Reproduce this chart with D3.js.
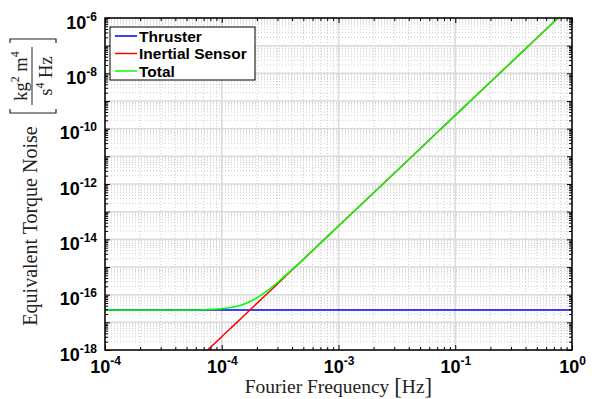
<!DOCTYPE html>
<html><head><meta charset="utf-8">
<script src="https://cdn.jsdelivr.net/npm/d3@7"></script>
<style>body{margin:0;background:#fff}</style>
</head><body>
<svg id="c" width="592" height="399"></svg>
<script>
// ---- data ----
const freq      = [1e-4, 2e-4, 5e-4, 7e-4, 1e-3, 1.2e-3, 1.5e-3, 1.7e-3, 2e-3, 2.5e-3, 3e-3, 4e-3, 5e-3, 7e-3, 1e-2, 2e-2, 5e-2, 1e-1, 2e-1, 5e-1, 1];
const thruster  = [2.8e-17,2.8e-17,2.8e-17,2.8e-17,2.8e-17,2.8e-17,2.8e-17,2.8e-17,2.8e-17,2.8e-17,2.8e-17,2.8e-17,2.8e-17,2.8e-17,2.8e-17,2.8e-17,2.8e-17,2.8e-17,2.8e-17,2.8e-17,2.8e-17];
const inertial  = [3.03e-22,4.85e-21,1.89e-19,7.27e-19,3.03e-18,6.28e-18,1.53e-17,2.53e-17,4.85e-17,1.18e-16,2.45e-16,7.76e-16,1.89e-15,7.27e-15,3.03e-14,4.85e-13,1.89e-11,3.03e-10,4.85e-9,1.89e-7,3.03e-6];
const total     = [2.8e-17,2.8e-17,2.82e-17,2.87e-17,3.1e-17,3.43e-17,4.33e-17,5.33e-17,7.65e-17,1.46e-16,2.73e-16,8.04e-16,1.92e-15,7.30e-15,3.03e-14,4.85e-13,1.89e-11,3.03e-10,4.85e-9,1.89e-7,3.03e-6];
const seriesNames  = ["Thruster", "Inertial Sensor", "Total"];
const seriesColors = ["#0000ff", "#ff0000", "#00ff00"];
const xTickValues = [1e-4, 1e-3, 1e-2, 1e-1, 1];
const xTickLabels = ["10^-4", "10^-4", "10^-3", "10^-1", "10^0"];
const yTickValues = [1e-18, 1e-16, 1e-14, 1e-12, 1e-10, 1e-8, 1e-6];
const yTickLabels = ["10^-18", "10^-16", "10^-14", "10^-12", "10^-10", "10^-8", "10^-6"];
const xDomain = [1e-4, 1];
const yDomain = [1e-18, 1e-6];

// ---- layout ----
const L = 105, R = 572, T = 18, B = 350;
const svg = d3.select("#c");
const x = d3.scaleLog().domain(xDomain).range([L, R]);
const y = d3.scaleLog().domain(yDomain).range([B, T]);

const xMajor = [], xMinor = [], yMajor = [], yMinor = [];
for (let e = -4; e <= 0; e++) { xMajor.push(Math.pow(10, e)); if (e < 0) for (let k = 2; k <= 9; k++) xMinor.push(k * Math.pow(10, e)); }
for (let e = -18; e <= -6; e++) { yMajor.push(Math.pow(10, e)); if (e < -6) for (let k = 2; k <= 9; k++) yMinor.push(k * Math.pow(10, e)); }

// grid
const grid = svg.append("g");
grid.selectAll(".gxm").data(xMinor).join("line")
  .attr("x1", d => x(d)).attr("x2", d => x(d)).attr("y1", T).attr("y2", B)
  .attr("stroke", "#cfcfcf").attr("stroke-width", 1).attr("stroke-dasharray", "1,2");
grid.selectAll(".gym").data(yMinor).join("line")
  .attr("y1", d => y(d)).attr("y2", d => y(d)).attr("x1", L).attr("x2", R)
  .attr("stroke", "#cfcfcf").attr("stroke-width", 1).attr("stroke-dasharray", "1,2");
grid.selectAll(".gxM").data(xMajor).join("line")
  .attr("x1", d => x(d)).attr("x2", d => x(d)).attr("y1", T).attr("y2", B)
  .attr("stroke", "#dadada").attr("stroke-width", 1.5);
grid.selectAll(".gyM").data(yMajor).join("line")
  .attr("y1", d => y(d)).attr("y2", d => y(d)).attr("x1", L).attr("x2", R)
  .attr("stroke", "#dadada").attr("stroke-width", 1.5);

// lines
svg.append("clipPath").attr("id", "clip").append("rect")
  .attr("x", L).attr("y", T).attr("width", R - L).attr("height", B - T);
const line = d3.line().x((d, i) => x(freq[i])).y(d => y(d)).curve(d3.curveMonotoneX);
const allSeries = [thruster, inertial, total];
svg.append("g").attr("clip-path", "url(#clip)")
  .selectAll("path").data(allSeries).join("path")
  .attr("d", d => line(d)).attr("fill", "none")
  .attr("stroke", (d, i) => seriesColors[i]).attr("stroke-width", 1.5);

// axes (ticks inside, box)
const fmtTick = (sel, labels, vals) => {
  sel.selectAll(".tick text").each(function(d) {
    const idx = vals.findIndex(v => Math.abs(Math.log10(v) - Math.log10(d)) < 1e-6);
    const t = d3.select(this);
    t.text(null);
    if (idx < 0) return;
    const parts = labels[idx].split("^");
    t.append("tspan").text(parts[0]);
    t.append("tspan").attr("font-size", 12).attr("dy", -8).text(parts[1]);
  });
};
const ax = (axis) => axis.tickSizeOuter(0);
const xBot = svg.append("g").attr("transform", `translate(0,${B})`)
  .call(ax(d3.axisBottom(x).tickValues(xMajor).tickSize(-5).tickPadding(10)));
fmtTick(xBot, xTickLabels, xTickValues);
xBot.selectAll(".tick text").attr("dy", "0.72em");
svg.append("g").attr("transform", `translate(0,${B})`)
  .call(ax(d3.axisBottom(x).tickValues(xMinor).tickSize(-3).tickFormat("")));
svg.append("g").attr("transform", `translate(0,${T})`)
  .call(ax(d3.axisTop(x).tickValues(xMajor).tickSize(-5).tickFormat("")));
svg.append("g").attr("transform", `translate(0,${T})`)
  .call(ax(d3.axisTop(x).tickValues(xMinor).tickSize(-3).tickFormat("")));
const yLeft = svg.append("g").attr("transform", `translate(${L},0)`)
  .call(ax(d3.axisLeft(y).tickValues(yMajor).tickSize(-5).tickPadding(8)));
fmtTick(yLeft, yTickLabels, yTickValues);
yLeft.selectAll(".tick text").attr("dy", "0.56em");
svg.append("g").attr("transform", `translate(${L},0)`)
  .call(ax(d3.axisLeft(y).tickValues(yMinor).tickSize(-3).tickFormat("")));
svg.append("g").attr("transform", `translate(${R},0)`)
  .call(ax(d3.axisRight(y).tickValues(yMajor).tickSize(-5).tickFormat("")));
svg.append("g").attr("transform", `translate(${R},0)`)
  .call(ax(d3.axisRight(y).tickValues(yMinor).tickSize(-3).tickFormat("")));
svg.selectAll(".domain").remove();
svg.selectAll(".tick line").attr("stroke", "#000").attr("stroke-width", 1);
svg.selectAll(".tick text").attr("font-family", "Liberation Sans, Arial, sans-serif")
  .attr("font-weight", "bold").attr("font-size", 18).attr("fill", "#000");
svg.append("rect").attr("x", L).attr("y", T).attr("width", R - L).attr("height", B - T)
  .attr("fill", "none").attr("stroke", "#000").attr("stroke-width", 1.5);

// x label
const serif = "Liberation Serif, Times New Roman, serif";
const xl = svg.append("text").attr("x", (L + R) / 2).attr("y", 393).attr("text-anchor", "middle")
  .attr("font-family", serif).attr("font-size", 19.5).attr("fill", "#222");
xl.append("tspan").text("Fourier Frequency ");
xl.append("tspan").attr("font-size", 23).attr("dy", 1).text("[");
xl.append("tspan").attr("dy", -1).text("Hz");
xl.append("tspan").attr("font-size", 23).attr("dy", 1).text("]");

// y label
svg.append("text").attr("transform", "translate(37,226) rotate(-90)").attr("text-anchor", "middle")
  .attr("font-family", serif).attr("font-size", 20).attr("fill", "#222").text("Equivalent Torque Noise");
const fr = svg.append("g").attr("transform", "translate(0,76) rotate(-90)");
const num = fr.append("text").attr("x", 0).attr("y", 27).attr("text-anchor", "middle")
  .attr("font-family", serif).attr("font-size", 18.5).attr("fill", "#222");
num.append("tspan").text("kg");
num.append("tspan").attr("font-size", 12).attr("dy", -8).text("2");
num.append("tspan").attr("dy", 8).text(" m");
num.append("tspan").attr("font-size", 12).attr("dy", -8).text("4");
fr.append("line").attr("x1", -29).attr("x2", 29).attr("y1", 32).attr("y2", 32).attr("stroke", "#222").attr("stroke-width", 1);
const den = fr.append("text").attr("x", 0).attr("y", 52).attr("text-anchor", "middle")
  .attr("font-family", serif).attr("font-size", 18.5).attr("fill", "#222");
den.append("tspan").text("s");
den.append("tspan").attr("font-size", 12).attr("dy", -8).text("4");
den.append("tspan").attr("dy", 8).text(" Hz");
fr.append("path").attr("d", "M-33,10 H-37 V56 H-33").attr("fill", "none").attr("stroke", "#222").attr("stroke-width", 1.2);
fr.append("path").attr("d", "M33,10 H37 V56 H33").attr("fill", "none").attr("stroke", "#222").attr("stroke-width", 1.2);

// legend
const lg = svg.append("g");
lg.append("rect").attr("x", 110).attr("y", 27).attr("width", 145).attr("height", 53)
  .attr("fill", "#fff").attr("stroke", "#000").attr("stroke-width", 1);
seriesNames.forEach((n, i) => {
  const yy = 36 + i * 17.5;
  lg.append("line").attr("x1", 115).attr("x2", 137).attr("y1", yy).attr("y2", yy)
    .attr("stroke", seriesColors[i]).attr("stroke-width", 1.5);
  lg.append("text").attr("x", 139).attr("y", yy + 5.5).attr("font-family", "Liberation Sans, Arial, sans-serif")
    .attr("font-weight", "bold").attr("font-size", 15.5).attr("fill", "#000").text(n);
});
</script>
</body></html>
